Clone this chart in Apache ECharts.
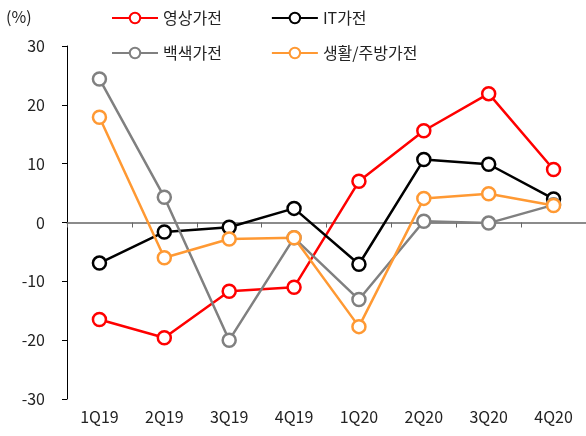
<!DOCTYPE html>
<html><head><meta charset="utf-8">
<script src="https://cdn.jsdelivr.net/npm/echarts@6/dist/echarts.min.js"></script>
<style>html,body{margin:0;padding:0;background:#fff}#c{width:586px;height:436px}</style>
</head><body><div id="c"></div>
<script>
const categories = ['1Q19','2Q19','3Q19','4Q19','1Q20','2Q20','3Q20','4Q20'];
const video = [-16.5, -19.6, -11.7, -11.0, 7.0, 15.6, 21.9, 9.0];
const itDev = [-6.9, -1.6, -0.8, 2.4, -7.1, 10.7, 9.9, 4.0];
const white = [24.4, 4.3, -20.0, -2.6, -13.1, 0.2, -0.1, 3.0];
const kitchen = [17.9, -6.0, -2.8, -2.6, -17.7, 4.1, 4.9, 2.9];
const names = ['영상가전','IT가전','백색가전','생활/주방가전'];
const colors = ['#FF0000','#000000','#808080','#FF9933'];
const yTicks = { min: -30, max: 30, interval: 10 };

const FONT = '"Noto Sans CJK KR", "Noto Sans", sans-serif';
const chart = echarts.init(document.getElementById('c'), null, {renderer:'canvas'});
const mk = (name, data, color) => ({
  name, type:'line', data, xAxisIndex:0, yAxisIndex:0,
  symbol:'circle', symbolSize:13, showSymbol:true,
  itemStyle:{color:'#fff', borderColor:color, borderWidth:2.5},
  lineStyle:{color, width:2.5},
  emphasis:{disabled:true}, animation:false
});
const legendCommon = {
  itemWidth:46, itemHeight:13, itemGap:49,
  textStyle:{fontFamily:FONT, fontSize:16, color:'#222'},
  selectedMode:false
};
chart.setOption({
  animation:false,
  textStyle:{fontFamily:FONT},
  grid:{left:67, right:-1, top:46, bottom:37, containLabel:false},
  graphic:[{type:'text', left:6, top:9, style:{text:'(%)', font:'16px '+FONT, fill:'#222'}}],
  legend:[
    Object.assign({left:106, top:5, data:[names[0], names[1]]}, legendCommon),
    Object.assign({left:106, top:40, data:[names[2], names[3]]}, legendCommon)
  ],
  xAxis:[
    {type:'category', data:categories, position:'bottom', boundaryGap:true,
     axisLine:{show:false, onZero:false}, axisTick:{show:false},
     axisLabel:{fontSize:16, color:'#222', margin:10, fontFamily:FONT}},
    {type:'category', data:categories, position:'bottom', boundaryGap:true,
     axisLine:{show:true, onZero:true, onZeroAxisIndex:0, lineStyle:{color:'#666', width:1.5}},
     axisTick:{show:true, length:5, lineStyle:{color:'#666'}},
     axisLabel:{show:false}}
  ],
  yAxis:{type:'value', min:yTicks.min, max:yTicks.max, interval:yTicks.interval,
    axisLine:{show:true, onZero:false, lineStyle:{color:'#000', width:1}},
    axisTick:{show:true, length:5, lineStyle:{color:'#000'}},
    splitLine:{show:false},
    axisLabel:{fontSize:16, color:'#222', margin:22, fontFamily:FONT}},
  series:[
    mk(names[0], video, colors[0]),
    mk(names[1], itDev, colors[1]),
    mk(names[2], white, colors[2]),
    mk(names[3], kitchen, colors[3])
  ]
});
</script></body></html>
